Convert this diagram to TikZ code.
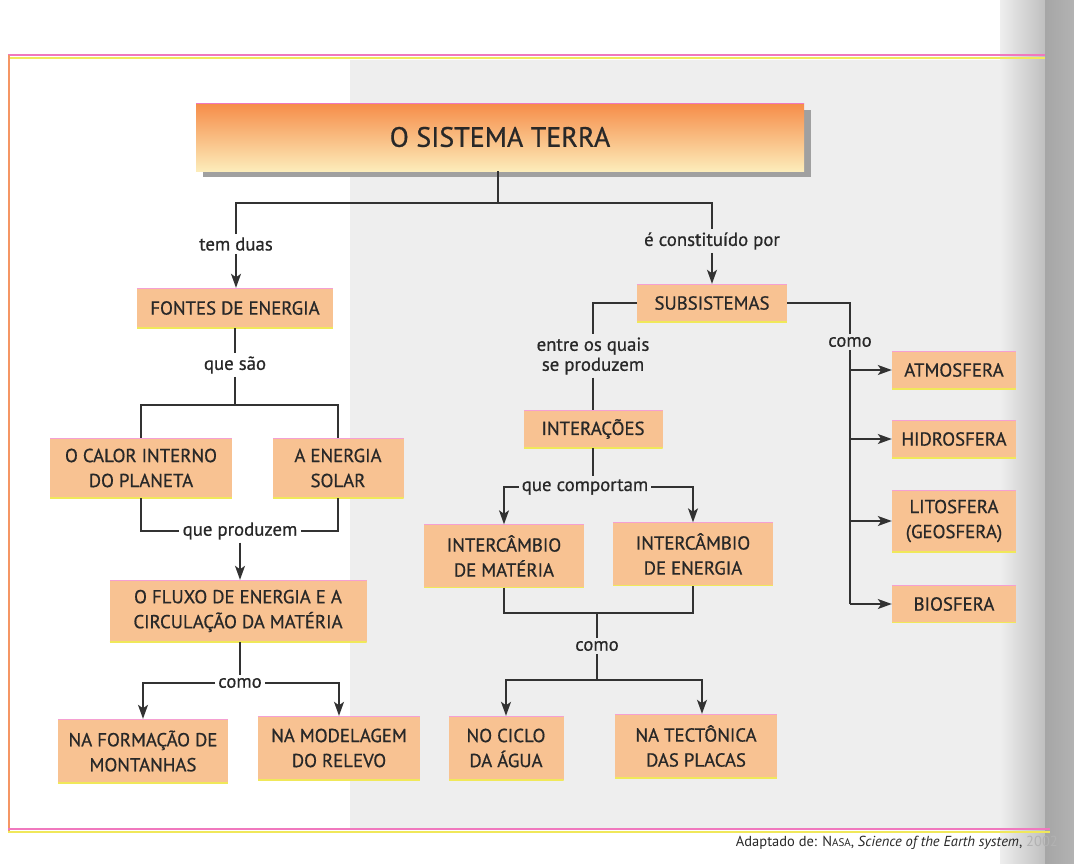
\documentclass[tikz,border=0pt]{standalone}
\usepackage{fontspec}
\setmainfont{PT Sans}
\newfontfamily\boxf{PT Sans}[FakeBold=0.7]
\usetikzlibrary{arrows.meta,calc}
\definecolor{boxc}{RGB}{248,194,146}
\definecolor{txt}{RGB}{40,40,40}
\definecolor{linec}{RGB}{50,50,50}
\definecolor{pinkc}{RGB}{240,120,190}
\definecolor{yelc}{RGB}{240,232,90}
\definecolor{framel}{RGB}{245,150,100}
\definecolor{bgg}{RGB}{238,238,238}
\definecolor{shadowc}{RGB}{160,160,160}
\definecolor{ttop}{RGB}{246,140,72}
\definecolor{tmid}{RGB}{251,190,138}
\definecolor{tbot}{RGB}{252,236,186}
\tikzset{
  box/.style={fill=boxc, align=center, inner sep=0pt, text=txt,
    font=\boxf\fontsize{18.8}{25}\selectfont,
    path picture={
      \draw[pinkc!70, line width=1.5pt] (path picture bounding box.north west) -- (path picture bounding box.north east);
      \draw[yelc, line width=1.5pt] (path picture bounding box.south west) -- (path picture bounding box.south east);}},
  lbl/.style={text=txt, inner sep=3pt, align=center, font=\boxf\fontsize{18.8}{20}\selectfont},
  conn/.style={draw=linec, line width=1.4pt},
  arr/.style={conn, -{Stealth[length=14pt,width=10pt,inset=3.5pt]}}
}
\begin{document}
\begin{tikzpicture}[x=1pt,y=-1pt]
\useasboundingbox (0,0) rectangle (1074,863);
% page background
\fill[white] (0,0) rectangle (1074,863);
\fill[bgg] (350,60) rectangle (1000,828);
\shade[left color=bgg, right color=gray!50] (1000,0) rectangle (1045,863);
\shade[left color=gray!70, right color=gray!60] (1045,0) rectangle (1074,863);
% frame
\draw[pinkc, line width=2pt] (8,55) -- (1045,55);
\draw[yelc, line width=2pt] (8,58) -- (1045,58);
\draw[framel, line width=2.5pt] (9,55) -- (9,831);
\draw[pinkc, line width=2pt] (8,829) -- (1050,829);
\draw[yelc, line width=2pt] (8,832) -- (1050,832);
% title
\fill[shadowc] (203,110) rectangle (811,177);
\node[minimum width=608pt, minimum height=68pt, inner sep=0pt,
  shading=axis, top color=ttop, middle color=tmid, bottom color=tbot, text=txt,
  font=\boxf\fontsize{28}{30}\selectfont,
  path picture={\draw[pinkc, line width=2.5pt] (path picture bounding box.north west) -- (path picture bounding box.north east);}]
  (title) at (500,137) {O SISTEMA TERRA};
% boxes
\node[box, minimum width=196pt, minimum height=40pt] (fontes) at (235,308) {FONTES DE ENERGIA};
\node[box, minimum width=150pt, minimum height=38pt] (subs) at (712,303) {SUBSISTEMAS};
\node[box, minimum width=182pt, minimum height=60pt] (calor) at (141,468) {O CALOR INTERNO\\DO PLANETA};
\node[box, minimum width=131pt, minimum height=60pt] (solar) at (338,468) {A ENERGIA\\SOLAR};
\node[box, minimum width=139pt, minimum height=38pt] (inter) at (593,429) {INTERAÇÕES};
\node[box, minimum width=160pt, minimum height=63pt] (imat) at (504,556) {INTERCÂMBIO\\DE MATÉRIA};
\node[box, minimum width=160pt, minimum height=63pt] (iener) at (693,554) {INTERCÂMBIO\\DE ENERGIA};
\node[box, minimum width=257pt, minimum height=62pt] (fluxo) at (238,611) {O FLUXO DE ENERGIA E A\\CIRCULAÇÃO DA MATÉRIA};
\node[box, minimum width=170pt, minimum height=64pt] (mont) at (143,751) {NA FORMAÇÃO DE\\MONTANHAS};
\node[box, minimum width=162pt, minimum height=64pt] (relevo) at (339,748) {NA MODELAGEM\\DO RELEVO};
\node[box, minimum width=115pt, minimum height=64pt] (ciclo) at (506,748) {NO CICLO\\DA ÁGUA};
\node[box, minimum width=162pt, minimum height=64pt] (tect) at (696,746) {NA TECTÔNICA\\DAS PLACAS};
\node[box, minimum width=124pt, minimum height=38pt] (atm) at (954,370) {ATMOSFERA};
\node[box, minimum width=124pt, minimum height=38pt] (hid) at (954,439) {HIDROSFERA};
\node[box, minimum width=124pt, minimum height=62pt] (lit) at (954,521) {LITOSFERA\\(GEOSFERA)};
\node[box, minimum width=124pt, minimum height=37pt] (bio) at (954,604) {BIOSFERA};
% labels
\node[lbl] (temduas) at (236,244) {tem duas};
\node[lbl] (econst) at (712,241) {é constituído por};
\node[lbl] (quesao) at (235,365) {que são};
\node[lbl] (queprod) at (240,531) {que produzem};
\node[lbl] (como1) at (240,683) {como};
\node[lbl] (entre) at (593,356) {entre os quais\\se produzem};
\node[lbl] (quecomp) at (585,487) {que comportam};
\node[lbl] (como2) at (597,646) {como};
\node[lbl] (como3) at (850,342) {como};
% junctions
\coordinate (j1) at (498,203);
\coordinate (j2) at (235,405);
\coordinate (j3) at (597,613);
\coordinate (j4) at (597,680);
% connectors
\draw[conn] (title.south -| j1) -- (j1);
\draw[conn] (temduas.north) |- (j1) -| (econst.north);
\draw[arr] (temduas.south) -- (temduas.south |- fontes.north);
\draw[arr] (econst.south) -- (econst.south |- subs.north);
\draw[conn] (fontes.south) -- (quesao.north);
\draw[conn] (quesao.south) -- (j2);
\draw[conn] (calor.north) |- (j2) -| (solar.north);
\draw[conn] (calor.south) |- (queprod.west);
\draw[conn] (solar.south) |- (queprod.east);
\draw[arr] (queprod.south) -- (queprod.south |- fluxo.north);
\draw[conn] (fluxo.south -| como1) -- (como1.north);
\draw[arr] (como1.west) -| (mont.north);
\draw[arr] (como1.east) -| (relevo.north);
\draw[conn] (subs.west) -| (entre.north);
\draw[conn] (entre.south) -- (entre.south |- inter.north);
\draw[conn] (inter.south) -- (inter.south |- quecomp.north);
\draw[arr] (quecomp.west) -| (imat.north);
\draw[arr] (quecomp.east) -| (iener.north);
\draw[conn] (imat.south) |- (j3) -| (iener.south);
\draw[conn] (j3) -- (como2.north);
\draw[conn] (como2.south) -- (j4);
\draw[arr] (j4) -| (ciclo.north);
\draw[arr] (j4) -| ([xshift=6pt]tect.north);
\draw[conn] (subs.east) -| (como3.north);
\draw[conn] (como3.south) -- (como3.south |- bio.west);
\draw[arr] (como3.south |- atm.west) -- (atm.west);
\draw[arr] (como3.south |- hid.west) -- (hid.west);
\draw[arr] (como3.south |- lit.west) -- (lit.west);
\draw[arr] (como3.south |- bio.west) -- (bio.west);
% footer
\node[anchor=east, text=txt, inner sep=0pt, font=\fontsize{14.5}{16}\selectfont] (src) at (1058,843)
  {Adaptado de: N{\fontsize{11}{12}\selectfont ASA}, \textit{Science of the Earth system}, \textcolor{gray!60}{2002}};
\end{tikzpicture}
\end{document}
